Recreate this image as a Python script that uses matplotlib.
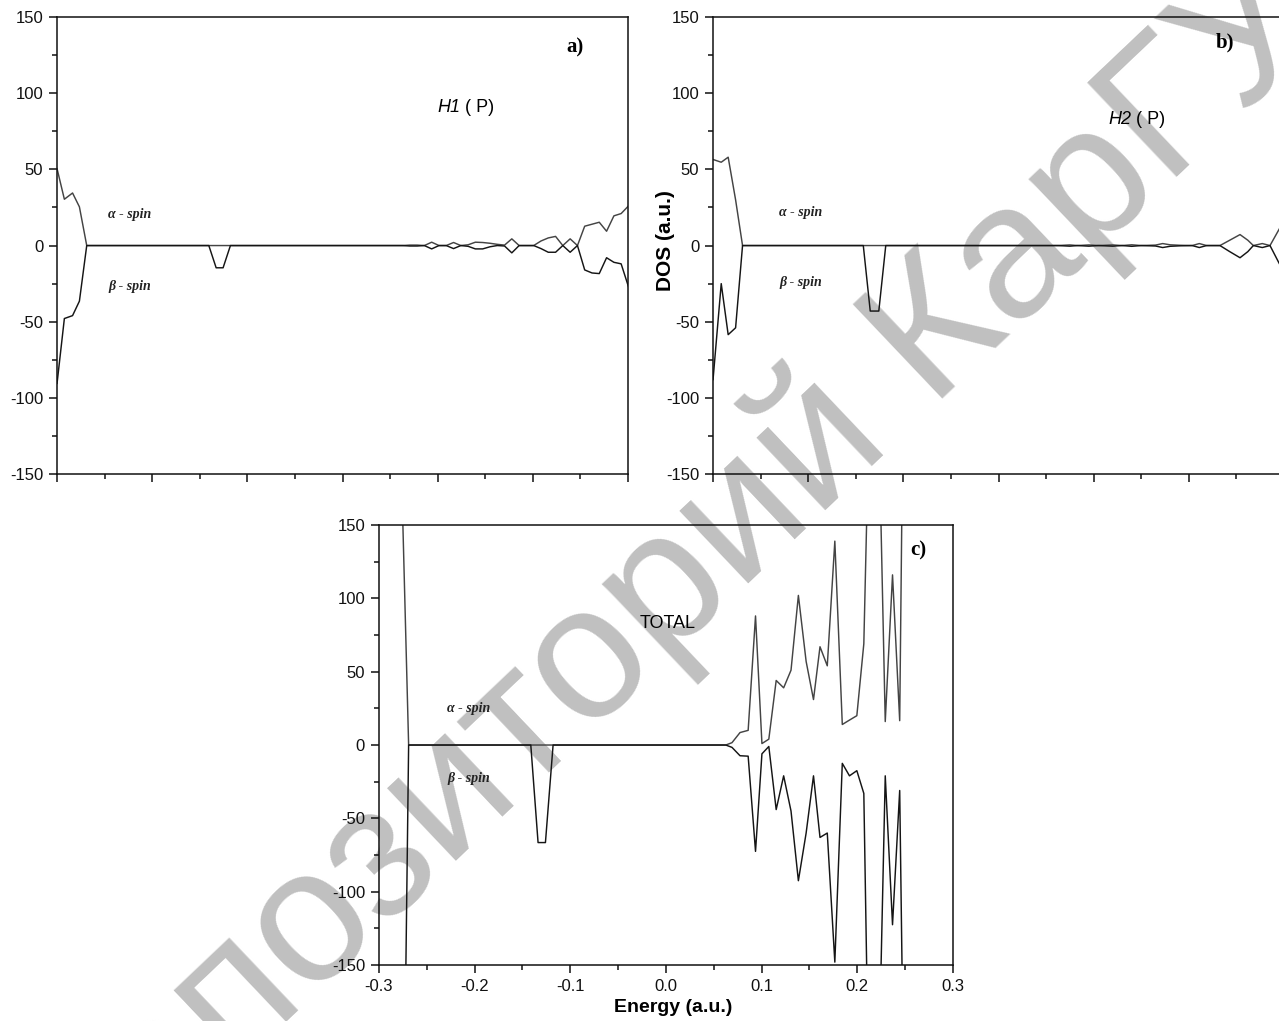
import matplotlib
matplotlib.use("Agg")
import matplotlib.pyplot as plt
from matplotlib.ticker import MultipleLocator, FormatStrFormatter

# --- data: energy (a.u.), alpha-spin DOS, beta-spin DOS ---
energy_a = [-0.3000, -0.2923, -0.2837, -0.2765, -0.2688, -0.1405, -0.1328, -0.1255, -0.1178,
            0.0630, 0.0707, 0.0784, 0.0860, 0.0937, 0.1014, 0.1090, 0.1167, 0.1243, 0.1320,
            0.1396, 0.1473, 0.1550, 0.1626, 0.1703, 0.1779, 0.1856, 0.1933, 0.2009, 0.2086,
            0.2162, 0.2239, 0.2315, 0.2392, 0.2469, 0.2545, 0.2622, 0.2698, 0.2775, 0.2852,
            0.2928, 0.3005]
alpha_a = [50.5, 30.4, 34.5, 25.4, 0, 0, 0, 0, 0,
           0, 0.3, 0.3, 0, 2.2, 0, 0, 2.0, 0, 0.5,
           2.2, 2.0, 1.5, 0.8, 0.3, 4.4, 0, 0, 0, 3.0,
           5.0, 6.0, 0, 4.4, 0, 12.7, 14.0, 15.3, 9.4, 19.5,
           21.0, 26.0]
beta_a = [-90.5, -47.9, -46.0, -36.5, 0, 0, -14.6, -14.6, 0,
          0, -0.3, -0.3, 0, -2.2, 0, 0, -2.0, 0, -0.5,
          -2.2, -2.2, -0.8, 0, -0.3, -4.8, 0, 0, 0, -2.0,
          -4.4, -4.4, 0, -4.4, 0, -16.0, -18.0, -18.4, -8.0, -11.0,
          -12.0, -27.0]

energy_b = [-0.3000, -0.2914, -0.2841, -0.2763, -0.2690, -0.1421, -0.1348, -0.1258, -0.1185,
            0.0620, 0.0750, 0.0830, 0.0950, 0.1050, 0.1200, 0.1300, 0.1400, 0.1500, 0.1650,
            0.1725, 0.1802, 0.1900, 0.2035, 0.2110, 0.2187, 0.2327, 0.2430, 0.2538, 0.2620,
            0.2678, 0.2772, 0.2853, 0.2947, 0.3005]
alpha_b = [56.5, 54.7, 58.0, 30.0, 0, 0, 0, 0, 0,
           0, 0.4, 0, 0.4, 0, 0.4, 0, 0.5, 0, 0.3,
           1.3, 0.5, 0.2, 0, 1.3, 0, 0, 3.5, 7.2, 3.5,
           0, 1.3, 0, 10.5, 17.0]
beta_b = [-88.0, -25.0, -58.5, -54.0, 0, 0, -43.0, -43.0, 0,
          0, -0.4, 0, -0.4, 0, -0.4, 0, -0.5, 0, -0.3,
          -1.3, -0.5, -0.2, 0, -1.3, 0, 0, -4.0, -8.0, -4.0,
          0, -1.3, 0, -11.4, -18.0]

energy_c = [-0.2766, -0.2690, -0.1413, -0.1337, -0.1260, -0.1180, 0.0625, 0.0690, 0.0774,
            0.0859, 0.0936, 0.1003, 0.1075, 0.1152, 0.1230, 0.1307, 0.1384, 0.1465, 0.1542,
            0.1610, 0.1686, 0.1765, 0.1843, 0.1918, 0.1995, 0.2068, 0.2143, 0.2218, 0.2292,
            0.2368, 0.2443, 0.2520]
alpha_c = [190, 0, 0, 0, 0, 0, 0, 1.6, 8.5,
           10, 88, 1, 4, 44, 39, 51, 102, 57, 31,
           67, 54, 139, 14, 17, 20, 69, 280, 240, 16,
           116, 16.6, 500]
beta_c = [-400, 0, 0, -66.5, -66.5, 0, 0, -1.6, -7.3,
          -7.6, -72.5, -6, -1, -44, -21, -45, -92.5, -60, -21,
          -63, -60, -148, -12.5, -21, -17.5, -33, -330, -240, -21,
          -122.5, -31, -410]

panel_tags = ["a)", "b)", "c)"]
panel_names = ["H1", "H2", "TOTAL"]

plt.rcParams["font.family"] = ["Liberation Sans", "DejaVu Sans"]
plt.rcParams["axes.unicode_minus"] = False

fig = plt.figure(figsize=(12.79, 10.21), dpi=100)

# watermark of the source repository, behind everything
fig.text(0.0625, -0.193, "репозиторий КарГУ", rotation=43.5, rotation_mode="anchor",
         ha="left", va="baseline", fontsize=137, color="#c0c0c0", zorder=-1)

ax_a = fig.add_axes([0.0446, 0.5357, 0.4464, 0.4476])
ax_b = fig.add_axes([0.5575, 0.5357, 0.4464, 0.4476])
ax_c = fig.add_axes([0.2963, 0.0548, 0.4488, 0.4310])

panels = [(ax_a, energy_a, alpha_a, beta_a),
          (ax_b, energy_b, alpha_b, beta_b),
          (ax_c, energy_c, alpha_c, beta_c)]

for ax, e, up, dn in panels:
    ax.set_facecolor("none")
    ax.plot(e, up, color="#444444", lw=1.05)
    ax.plot(e, dn, color="#151515", lw=1.05)
    ax.set_xlim(-0.3, 0.3)
    ax.set_ylim(-150, 150)
    ax.xaxis.set_major_locator(MultipleLocator(0.1))
    ax.xaxis.set_minor_locator(MultipleLocator(0.05))
    ax.yaxis.set_major_locator(MultipleLocator(50))
    ax.yaxis.set_minor_locator(MultipleLocator(25))
    ax.tick_params(which="both", direction="out", top=False, right=False,
                   width=1.1, colors="#111111", labelsize=12)
    ax.tick_params(which="major", length=6, pad=4)
    ax.tick_params(which="minor", length=3.5)
    for s in ax.spines.values():
        s.set_linewidth(1.1)
        s.set_color("#111111")

ax_a.tick_params(axis="x", labelbottom=False)
ax_b.tick_params(axis="x", labelbottom=False)
ax_c.xaxis.set_major_formatter(FormatStrFormatter("%.1f"))

# panel tags
serif = ["Liberation Serif", "DejaVu Serif"]
ax_a.text(0.907, 0.934, panel_tags[0], transform=ax_a.transAxes, ha="center", va="center",
          family=serif, fontweight="bold", fontsize=15)
ax_b.text(0.897, 0.945, panel_tags[1], transform=ax_b.transAxes, ha="center", va="center",
          family=serif, fontweight="bold", fontsize=15)
ax_c.text(0.939, 0.943, panel_tags[2], transform=ax_c.transAxes, ha="center", va="center",
          family=serif, fontweight="bold", fontsize=15)

# panel names
ax_a.text(0.706, 0.801, panel_names[0], transform=ax_a.transAxes, ha="right", va="center",
          fontsize=13, style="italic")
ax_a.text(0.706, 0.801, " ( P)", transform=ax_a.transAxes, ha="left", va="center", fontsize=13)
ax_b.text(0.732, 0.776, panel_names[1], transform=ax_b.transAxes, ha="right", va="center",
          fontsize=13, style="italic")
ax_b.text(0.732, 0.776, " ( P)", transform=ax_b.transAxes, ha="left", va="center", fontsize=13)
ax_c.text(0.503, 0.777, panel_names[2], transform=ax_c.transAxes, ha="center", va="center",
          fontsize=13)

# spin labels
spin_pos = [(ax_a, 0.128, 0.569, 0.411), (ax_b, 0.153, 0.572, 0.419), (ax_c, 0.156, 0.584, 0.423)]
for ax, x, ya, yb in spin_pos:
    ax.text(x, ya, "α - spin", transform=ax.transAxes, ha="center", va="center",
            family=serif, style="italic", fontweight="bold", fontsize=10, color="#222222")
    ax.text(x, yb, "β - spin", transform=ax.transAxes, ha="center", va="center",
            family=serif, style="italic", fontweight="bold", fontsize=10, color="#222222")

ax_b.set_ylabel("DOS (a.u.)", fontsize=15, fontweight="bold")
ax_b.yaxis.set_label_coords(-0.066, 0.51)
ax_c.set_xlabel("Energy (a.u.)", fontsize=14, fontweight="bold")
ax_c.xaxis.set_label_coords(0.512, -0.077)

fig.savefig("out.png", dpi=100)
